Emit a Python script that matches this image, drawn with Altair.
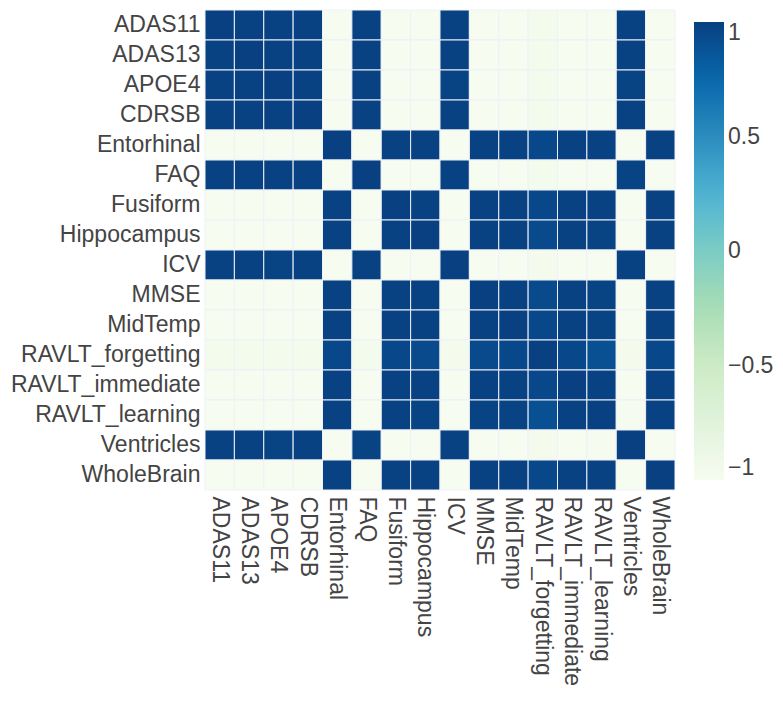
import altair as alt
import pandas as pd

variables = ["ADAS11", "ADAS13", "APOE4", "CDRSB", "Entorhinal", "FAQ", "Fusiform",
             "Hippocampus", "ICV", "MMSE", "MidTemp", "RAVLT_forgetting",
             "RAVLT_immediate", "RAVLT_learning", "Ventricles", "WholeBrain"]

# correlation matrix rows
r_ADAS11 = [1.00, 0.99, 0.99, 0.99, -0.99, 0.99, -0.99, -0.99, 0.99, -0.99, -0.99, -0.96, -0.99, -0.99, 0.99, -0.99]
r_ADAS13 = [0.99, 1.00, 0.99, 0.99, -0.99, 0.99, -0.99, -0.99, 0.99, -0.99, -0.99, -0.96, -0.99, -0.99, 0.99, -0.99]
r_APOE4 = [0.99, 0.99, 1.00, 0.99, -0.99, 0.99, -0.99, -0.99, 0.98, -0.99, -0.99, -0.96, -0.99, -0.99, 0.98, -0.99]
r_CDRSB = [0.99, 0.99, 0.99, 1.00, -0.99, 0.99, -0.99, -0.99, 0.99, -0.99, -0.99, -0.96, -0.99, -0.99, 0.99, -0.99]
r_Entorhinal = [-0.99, -0.99, -0.99, -0.99, 1.00, -0.99, 0.99, 0.99, -0.99, 0.99, 0.99, 0.95, 0.99, 0.99, -0.99, 0.99]
r_FAQ = [0.99, 0.99, 0.99, 0.99, -0.99, 1.00, -0.99, -0.99, 0.99, -0.99, -0.99, -0.96, -0.99, -0.99, 0.98, -0.99]
r_Fusiform = [-0.99, -0.99, -0.99, -0.99, 0.99, -0.99, 1.00, 0.99, -0.99, 0.99, 0.99, 0.95, 0.99, 0.99, -0.99, 0.99]
r_Hippocampus = [-0.99, -0.99, -0.99, -0.99, 0.99, -0.99, 0.99, 1.00, -0.99, 0.99, 0.99, 0.94, 0.99, 0.98, -0.99, 0.99]
r_ICV = [0.99, 0.99, 0.98, 0.99, -0.99, 0.99, -0.99, -0.99, 1.00, -0.99, -0.99, -0.97, -0.99, -0.99, 0.99, -0.99]
r_MMSE = [-0.99, -0.99, -0.99, -0.99, 0.99, -0.99, 0.99, 0.99, -0.99, 1.00, 0.99, 0.94, 0.99, 0.98, -0.99, 0.99]
r_MidTemp = [-0.99, -0.99, -0.99, -0.99, 0.99, -0.99, 0.99, 0.99, -0.99, 0.99, 1.00, 0.95, 0.99, 0.98, -0.99, 0.99]
r_RAVLT_forgetting = [-0.96, -0.96, -0.96, -0.96, 0.95, -0.96, 0.95, 0.94, -0.97, 0.94, 0.95, 1.00, 0.95, 0.90, -0.97, 0.95]
r_RAVLT_immediate = [-0.99, -0.99, -0.99, -0.99, 0.99, -0.99, 0.99, 0.99, -0.99, 0.99, 0.99, 0.95, 1.00, 0.99, -0.99, 0.99]
r_RAVLT_learning = [-0.99, -0.99, -0.99, -0.99, 0.99, -0.99, 0.99, 0.98, -0.99, 0.98, 0.98, 0.90, 0.99, 1.00, -0.98, 0.99]
r_Ventricles = [0.99, 0.99, 0.98, 0.99, -0.99, 0.98, -0.99, -0.99, 0.99, -0.99, -0.99, -0.97, -0.99, -0.98, 1.00, -0.99]
r_WholeBrain = [-0.99, -0.99, -0.99, -0.99, 0.99, -0.99, 0.99, 0.99, -0.99, 0.99, 0.99, 0.95, 0.99, 0.99, -0.99, 1.00]

rows = [r_ADAS11, r_ADAS13, r_APOE4, r_CDRSB, r_Entorhinal, r_FAQ, r_Fusiform,
        r_Hippocampus, r_ICV, r_MMSE, r_MidTemp, r_RAVLT_forgetting,
        r_RAVLT_immediate, r_RAVLT_learning, r_Ventricles, r_WholeBrain]

records = []
for i, rv in enumerate(variables):
    for j, cv in enumerate(variables):
        records.append({"row": rv, "col": cv, "value": rows[i][j]})
df = pd.DataFrame(records)

gnbu = ["rgb(247,252,240)", "rgb(224,243,219)", "rgb(204,235,197)", "rgb(168,221,181)",
        "rgb(123,204,196)", "rgb(78,179,211)", "rgb(43,140,190)", "rgb(8,104,172)",
        "rgb(8,64,129)"]
stops = [-1 + 2 * k / 8 for k in range(9)]

font = "Liberation Sans"
fs = 23
chart = alt.Chart(df).mark_rect(stroke="#eef1f8", strokeWidth=1).encode(
    x=alt.X("col:N", sort=variables, title=None,
            axis=alt.Axis(labelAngle=90, labelAlign="left", labelBaseline="middle",
                          labelFontSize=fs, labelFont=font, labelColor="#444",
                          ticks=False, domain=False, labelPadding=6, labelLimit=0)),
    y=alt.Y("row:N", sort=variables, title=None,
            axis=alt.Axis(labelFontSize=fs, labelFont=font, labelColor="#444",
                          ticks=False, domain=False, labelPadding=5, labelLimit=0)),
    color=alt.Color("value:Q",
                    scale=alt.Scale(domain=stops, range=gnbu, interpolate="rgb"),
                    legend=alt.Legend(title=None, gradientLength=458, gradientThickness=30,
                                      values=[-1, -0.5, 0, 0.5, 1], format="~g",
                                      labelFontSize=fs, labelFont=font, labelColor="#444",
                                      offset=7, padding=12, gradientStrokeWidth=0,
                                      labelOffset=4)),
).properties(
    width=470, height=480,
    autosize=alt.AutoSizeParams(type="none"),
    padding={"left": 197, "top": 2, "right": 100, "bottom": 200},
).configure_view(stroke=None)

chart.save("out.html", embed_options={"renderer": "svg", "actions": False})
